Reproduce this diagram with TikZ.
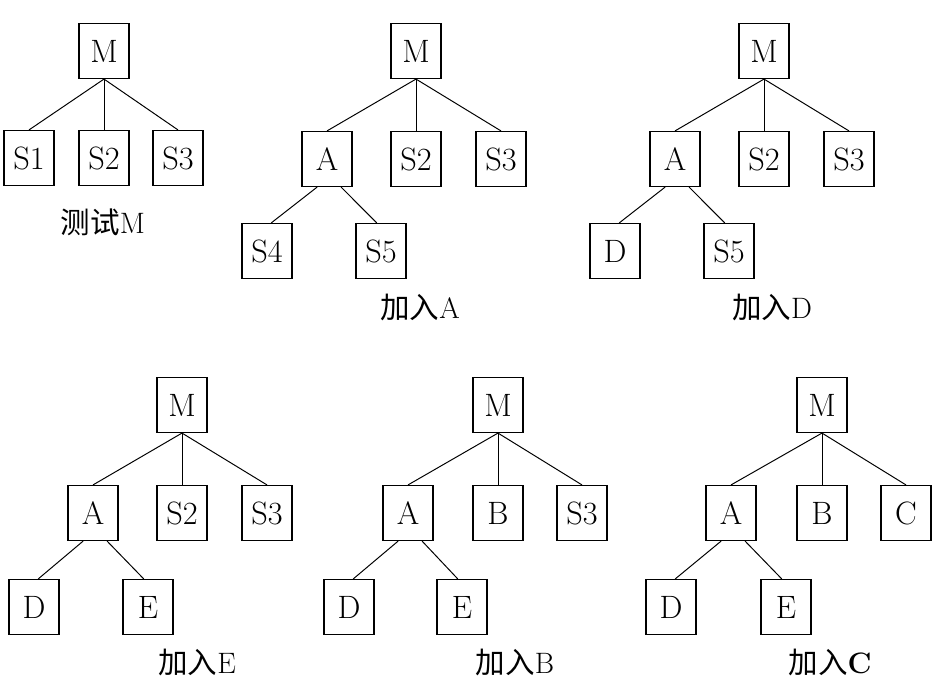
\documentclass[tikz,border=0pt]{standalone}
\usepackage{fontspec}
\newfontfamily\cjk{Noto Sans CJK SC}
\usepackage{tikz}
\usetikzlibrary{positioning}

\tikzset{
  box/.style={draw, line width=0.8pt, minimum width=1.25cm, minimum height=1.375cm,
    inner sep=0pt, font=\fontsize{23}{25}\selectfont},
  treelabel/.style={font=\fontsize{21}{23}\selectfont},
  edge/.style={line width=0.7pt}
}

\begin{document}
\begin{tikzpicture}[x=0.025cm, y=-0.025cm]
  \useasboundingbox (0,0) rectangle (949,691);
  % Test M
  \node[box] (t1m) at (104,51) {M};
  \node[box] (t1s1) at (29,158) {S1};
  \node[box] (t1s2) at (104,158) {S2};
  \node[box] (t1s3) at (178,158) {S3};
  \node[treelabel] (t1l) at (103,222) {{\cjk 测试}M};
  \foreach \c in {t1s1,t1s2,t1s3} \draw[edge] (t1m.south) -- (\c.north);
  % Add A
  \node[box] (t2m) at (416,51) {M};
  \node[box] (t2a) at (327,159) {A};
  \node[box] (t2s2) at (416,159) {S2};
  \node[box] (t2s3) at (501,159) {S3};
  \node[box] (t2s4) at (267,251) {S4};
  \node[box] (t2s5) at (381,251) {S5};
  \node[treelabel] (t2l) at (420,307) {{\cjk 加入}A};
  \foreach \c in {t2a,t2s2,t2s3} \draw[edge] (t2m.south) -- (\c.north);
  \draw[edge] ([xshift=-7pt]t2a.south) -- ([xshift=3pt]t2s4.north);
  \draw[edge] ([xshift=10pt]t2a.south) -- ([xshift=-3pt]t2s5.north);
  % Add D
  \node[box] (t3m) at (764,51) {M};
  \node[box] (t3a) at (675,159) {A};
  \node[box] (t3s2) at (764,159) {S2};
  \node[box] (t3s3) at (849,159) {S3};
  \node[box] (t3d) at (615,251) {D};
  \node[box] (t3s5) at (729,251) {S5};
  \node[treelabel] (t3l) at (772,307) {{\cjk 加入}D};
  \foreach \c in {t3a,t3s2,t3s3} \draw[edge] (t3m.south) -- (\c.north);
  \draw[edge] ([xshift=-7pt]t3a.south) -- ([xshift=3pt]t3d.north);
  \draw[edge] ([xshift=10pt]t3a.south) -- ([xshift=-3pt]t3s5.north);
  % Add E
  \node[box] (t4m) at (182,405) {M};
  \node[box] (t4a) at (93,513) {A};
  \node[box] (t4s2) at (182,513) {S2};
  \node[box] (t4s3) at (267,513) {S3};
  \node[box] (t4d) at (34,607) {D};
  \node[box] (t4e) at (148,607) {E};
  \node[treelabel] (t4l) at (197,662) {{\cjk 加入}E};
  \foreach \c in {t4a,t4s2,t4s3} \draw[edge] (t4m.south) -- (\c.north);
  \draw[edge] ([xshift=-7pt]t4a.south) -- ([xshift=3pt]t4d.north);
  \draw[edge] ([xshift=10pt]t4a.south) -- ([xshift=-3pt]t4e.north);
  % Add B
  \node[box] (t5m) at (498,405) {M};
  \node[box] (t5a) at (408,513) {A};
  \node[box] (t5b) at (498,513) {B};
  \node[box] (t5s3) at (582,513) {S3};
  \node[box] (t5d) at (349,607) {D};
  \node[box] (t5e) at (462,607) {E};
  \node[treelabel] (t5l) at (515,662) {{\cjk 加入}B};
  \foreach \c in {t5a,t5b,t5s3} \draw[edge] (t5m.south) -- (\c.north);
  \draw[edge] ([xshift=-7pt]t5a.south) -- ([xshift=3pt]t5d.north);
  \draw[edge] ([xshift=10pt]t5a.south) -- ([xshift=-3pt]t5e.north);
  % Add C
  \node[box] (t6m) at (822,405) {M};
  \node[box] (t6a) at (731,513) {A};
  \node[box] (t6b) at (822,513) {B};
  \node[box] (t6c) at (906,513) {C};
  \node[box] (t6d) at (671,607) {D};
  \node[box] (t6e) at (786,607) {E};
  \node[treelabel] (t6l) at (830,662) {{\cjk 加入}\textbf{C}};
  \foreach \c in {t6a,t6b,t6c} \draw[edge] (t6m.south) -- (\c.north);
  \draw[edge] ([xshift=-7pt]t6a.south) -- ([xshift=3pt]t6d.north);
  \draw[edge] ([xshift=10pt]t6a.south) -- ([xshift=-3pt]t6e.north);
\end{tikzpicture}
\end{document}
